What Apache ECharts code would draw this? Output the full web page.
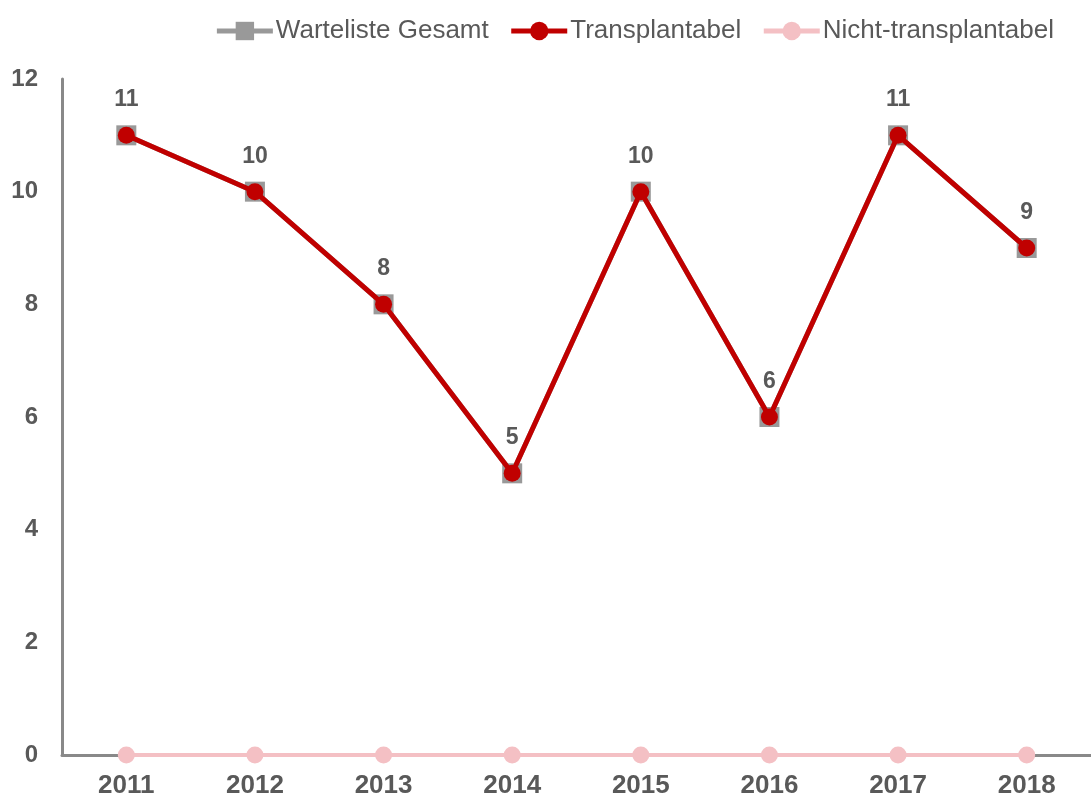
<!DOCTYPE html>
<html>
<head>
<meta charset="utf-8">
<script src="https://cdn.jsdelivr.net/npm/echarts@6/dist/echarts.min.js"></script>
<style>
html, body { margin: 0; padding: 0; background: #fff; }
#main { width: 1091px; height: 802px; }
</style>
</head>
<body>
<div id="main"></div>
<script>
var years = ["2011", "2012", "2013", "2014", "2015", "2016", "2017", "2018"];
var gesamt = [11, 10, 8, 5, 10, 6, 11, 9];
var transplantabel = [11, 10, 8, 5, 10, 6, 11, 9];
var nichtTransplantabel = [0, 0, 0, 0, 0, 0, 0, 0];

var textColor = "#595959";
var chart = echarts.init(document.getElementById("main"));
var option = {
    animation: false,
    textStyle: { fontFamily: "Liberation Sans, Arial, sans-serif" },
    legend: {
        top: 13,
        right: 32,
        itemWidth: 56,
        itemHeight: 23,
        itemGap: 20,
        textStyle: { fontSize: 26, color: textColor, padding: [0, 0, 0, -2] },
        data: [
            { name: "Warteliste Gesamt", lineStyle: { width: 5 } },
            { name: "Transplantabel", lineStyle: { width: 5 } },
            { name: "Nicht-transplantabel", lineStyle: { width: 5 } }
        ]
    },
    grid: { left: 62, right: 0, top: 79, bottom: 47 },
    xAxis: {
        type: "category",
        data: years,
        axisLine: { show: true, lineStyle: { color: "#898989", width: 3 } },
        axisTick: { show: false },
        axisLabel: { fontSize: 26, fontWeight: "bold", color: textColor, margin: 18 }
    },
    yAxis: {
        type: "value",
        min: 0,
        max: 12,
        interval: 2,
        axisLine: { show: true, lineStyle: { color: "#898989", width: 3 } },
        axisTick: { show: false },
        splitLine: { show: false },
        axisLabel: { fontSize: 24, fontWeight: "bold", color: textColor, margin: 24 }
    },
    series: [{
        name: "Warteliste Gesamt",
        type: "line",
        data: gesamt,
        symbol: "rect",
        symbolSize: 20,
        itemStyle: { color: "#999999" },
        lineStyle: { color: "#999999", width: 5 },
        label: {
            show: true,
            position: "top",
            distance: 14,
            fontSize: 23,
            fontWeight: "bold",
            color: textColor
        },
        z: 2
    }, {
        name: "Transplantabel",
        type: "line",
        data: transplantabel,
        symbol: "circle",
        symbolSize: 17,
        itemStyle: { color: "#c00000" },
        lineStyle: { color: "#c00000", width: 5 },
        z: 3
    }, {
        name: "Nicht-transplantabel",
        type: "line",
        data: nichtTransplantabel,
        symbol: "circle",
        symbolSize: 17,
        itemStyle: { color: "#f4c0c4" },
        lineStyle: { color: "#f4c0c4", width: 4 },
        z: 4
    }]
};
chart.setOption(option, true);
</script>
</body>
</html>
